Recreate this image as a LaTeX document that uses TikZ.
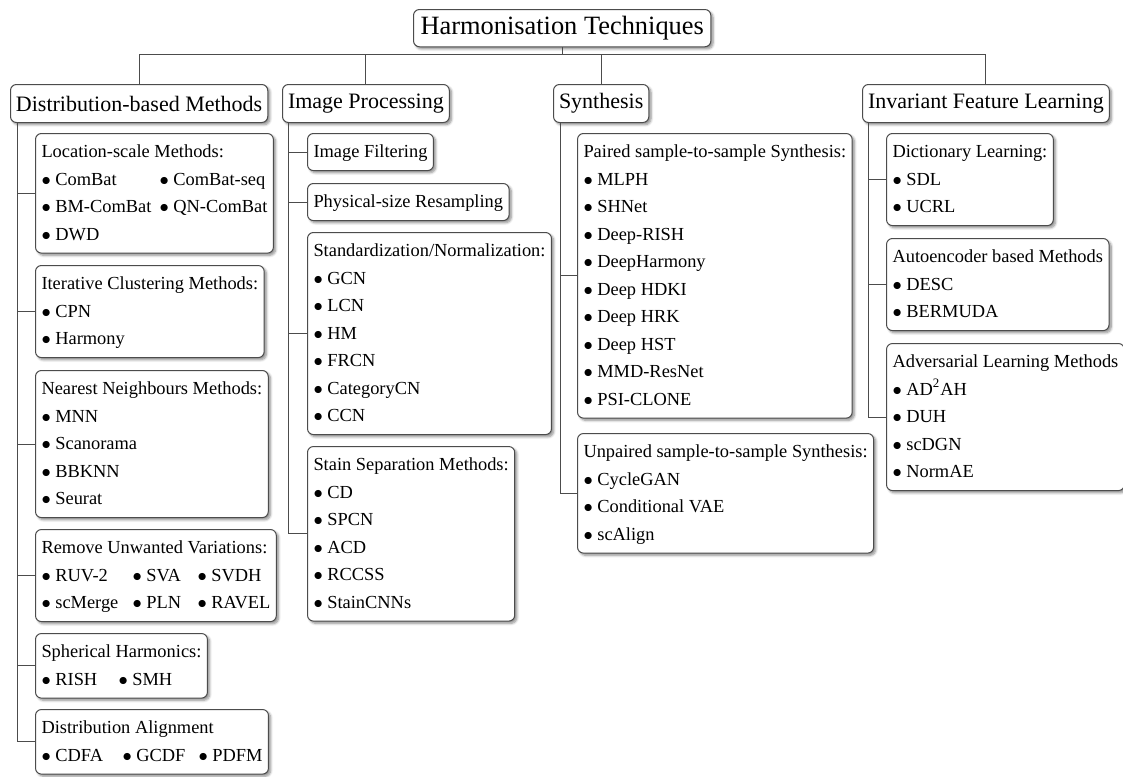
\documentclass[tikz,border=0pt]{standalone}
\usepackage{fontspec}
\setmainfont{Liberation Serif}
\usepackage{tikz}
\usetikzlibrary{
  shadows
  , shadows.blur
  , calc
}

\newcommand{\bul}{\strut$\bullet$~}
\newcommand{\hd}[1]{\strut #1}
\newcommand{\itemcol}[2]{\makebox[#1][l]{#2}}

\begin{document}
\begin{tikzpicture}[x=0.5pt, y=-0.5pt,
    box/.style={draw=black!70, line width=0.5pt, rounded corners=3pt, fill=white,
      blur shadow={shadow xshift=1.1pt, shadow yshift=-1.1pt,
        shadow blur radius=1.2pt, shadow blur steps=6, shadow opacity=45}},
    toplevel/.style={box, anchor=north west, font=\fontsize{11}{13}\selectfont,
      inner xsep=2.75pt, minimum height=19pt},
    group/.style={box, anchor=north west, align=left,
      font=\fontsize{9.2}{13.75}\selectfont, inner xsep=3pt, inner ysep=2.4pt},
    conn/.style={draw=black!70, line width=0.5pt}]
  \useasboundingbox (0,0) rectangle (1123,776);

  % root and first level
  \node [toplevel, font=\fontsize{13.2}{15}\selectfont, inner xsep=3.5pt,
    minimum height=18.5pt] (root) at (413,9) {Harmonisation Techniques};
  \node [toplevel] (dist) at (10,84) {Distribution-based Methods};
  \node [toplevel] (img) at (282,84) {Image Processing};
  \node [toplevel] (syn) at (553,84) {Synthesis};
  \node [toplevel] (inv) at (862,84) {Invariant Feature Learning};

  \coordinate (bus) at (0,54);
  \draw [conn] (root.south) -- (root.south |- bus);
  \draw [conn] (dist.north) -- (dist.north |- bus) -- (inv.north |- bus) -- (inv.north);
  \foreach \n in {img,syn}
    \draw [conn] (\n.north) -- (\n.north |- bus);

  % distribution-based
  \node [group] (loc) at (35,133) {\hd{Location-scale Methods:}\\
    \itemcol{59pt}{\bul ComBat}\bul ComBat-seq\\
    \itemcol{59pt}{\bul BM-ComBat}\bul QN-ComBat\\
    \bul DWD};
  \node [group] (iter) at (35,265) {\hd{Iterative Clustering Methods:}\\
    \bul CPN\\ \bul Harmony};
  \node [group] (nn) at (35,370) {\hd{Nearest Neighbours Methods:}\\
    \bul MNN\\ \bul Scanorama\\ \bul BBKNN\\ \bul Seurat};
  \node [group] (ruv) at (35,529) {\hd{Remove Unwanted Variations:}\\
    \itemcol{45.5pt}{\bul RUV-2}\itemcol{32.5pt}{\bul SVA}\bul SVDH\\
    \itemcol{45.5pt}{\bul scMerge}\itemcol{32.5pt}{\bul PLN}\bul RAVEL};
  \node [group] (sph) at (35,633) {\hd{Spherical Harmonics:}\\
    \itemcol{38.5pt}{\bul RISH}\bul SMH};
  \node [group] (align) at (35,709) {\hd{Distribution Alignment}\\
    \itemcol{40.5pt}{\bul CDFA}\itemcol{38pt}{\bul GCDF}\bul PDFM};

  % image processing
  \node [group] (filt) at (307,133) {\hd{Image Filtering}};
  \node [group] (resamp) at (307,183) {\hd{Physical-size Resampling}};
  \node [group] (norm) at (307,232) {\hd{Standardization/Normalization:}\\
    \bul GCN\\ \bul LCN\\ \bul HM\\ \bul FRCN\\ \bul CategoryCN\\ \bul CCN};
  \node [group] (stain) at (307,446) {\hd{Stain Separation Methods:}\\
    \bul CD\\ \bul SPCN\\ \bul ACD\\ \bul RCCSS\\ \bul StainCNNs};

  % synthesis
  \node [group] (paired) at (577,133) {\hd{Paired sample-to-sample Synthesis:}\\
    \bul MLPH\\ \bul SHNet\\ \bul Deep-RISH\\ \bul DeepHarmony\\ \bul Deep HDKI\\
    \bul Deep HRK\\ \bul Deep HST\\ \bul MMD-ResNet\\ \bul PSI-CLONE};
  \node [group] (unpaired) at (577,433) {\hd{Unpaired sample-to-sample Synthesis:}\\
    \bul CycleGAN\\ \bul Conditional VAE\\ \bul scAlign};

  % invariant feature learning
  \node [group] (dict) at (886,133) {\hd{Dictionary Learning:}\\
    \bul SDL\\ \bul UCRL};
  \node [group] (auto) at (886,238) {\hd{Autoencoder based Methods}\\
    \bul DESC\\ \bul BERMUDA};
  \node [group] (adv) at (886,343) {\hd{Adversarial Learning Methods}\\
    \bul AD\textsuperscript{2}AH\\ \bul DUH\\ \bul scDGN\\ \bul NormAE};

  % trunks
  \foreach \c in {loc,iter,nn,ruv,sph,align}
    \draw [conn] ([xshift=3.5pt]dist.south west) |- (\c.west);
  \foreach \c in {filt,resamp,norm,stain}
    \draw [conn] ([xshift=3pt]img.south west) |- (\c.west);
  \foreach \c in {paired,unpaired}
    \draw [conn] ([xshift=3.5pt]syn.south west) |- (\c.west);
  \foreach \c in {dict,auto,adv}
    \draw [conn] ([xshift=3pt]inv.south west) |- (\c.west);
\end{tikzpicture}
\end{document}
